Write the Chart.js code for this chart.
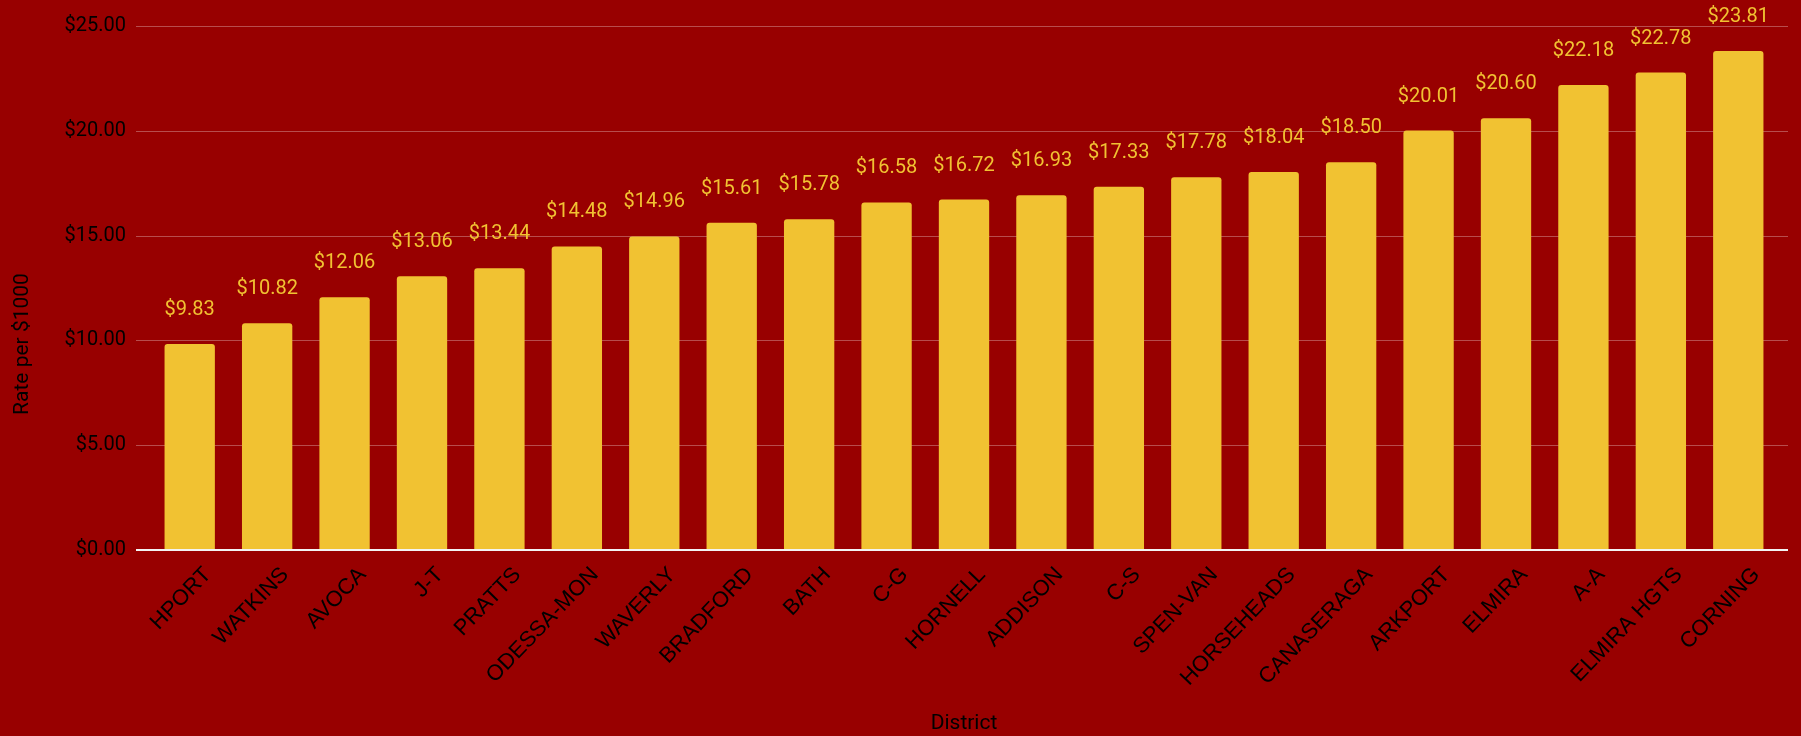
<!DOCTYPE html>
<html>
<head>
<meta charset="utf-8">
<script src="https://cdn.jsdelivr.net/npm/chart.js@4/dist/chart.umd.min.js"></script>
<style>
  html, body { margin: 0; padding: 0; background: #980000; }
  #wrap { width: 1801px; height: 736px; position: relative; }
</style>
</head>
<body>
<div id="wrap"><canvas id="c"></canvas></div>
<script>
const districts = ["HPORT","WATKINS","AVOCA","J-T","PRATTS","ODESSA-MON","WAVERLY","BRADFORD","BATH","C-G","HORNELL","ADDISON","C-S","SPEN-VAN","HORSEHEADS","CANASERAGA","ARKPORT","ELMIRA","A-A","ELMIRA HGTS","CORNING"];
const rates = [9.83,10.82,12.06,13.06,13.44,14.48,14.96,15.61,15.78,16.58,16.72,16.93,17.33,17.78,18.04,18.50,20.01,20.60,22.18,22.78,23.81];
const yTicks = [0,5,10,15,20,25];
const xTitle = "District";
const yTitle = "Rate per $1000";

const BG = '#980000';
const BAR = '#f1c232';

const gridPlugin = {
  id: 'gridExt',
  beforeDatasetsDraw(chart) {
    const {ctx, chartArea, scales} = chart;
    const y = scales.y;
    ctx.save();
    ctx.strokeStyle = 'rgba(255,255,255,0.30)';
    ctx.lineWidth = 1;
    yTicks.forEach(v => {
      if (v === 0) return;
      const py = Math.round(y.getPixelForValue(v)) + 0.5;
      ctx.beginPath();
      ctx.moveTo(chartArea.left - 15, py);
      ctx.lineTo(chartArea.right + 11, py);
      ctx.stroke();
    });
    ctx.restore();
  },
  afterDatasetsDraw(chart) {
    const {ctx, chartArea, scales} = chart;
    const y = scales.y;
    ctx.save();
    // baseline
    ctx.strokeStyle = '#f3f3f3';
    ctx.lineWidth = 2;
    const py = y.getPixelForValue(0);
    ctx.beginPath();
    ctx.moveTo(chartArea.left - 15, py);
    ctx.lineTo(chartArea.right + 11, py);
    ctx.stroke();
    // value labels
    ctx.fillStyle = BAR;
    ctx.font = '20px Roboto';
    ctx.textAlign = 'center';
    ctx.textBaseline = 'alphabetic';
    const meta = chart.getDatasetMeta(0);
    meta.data.forEach((el, i) => {
      ctx.fillText('$' + rates[i].toFixed(2), el.x, el.y - 29);
    });
    // y axis title
    ctx.save();
    ctx.translate(28, 344);
    ctx.rotate(-Math.PI / 2);
    ctx.fillStyle = '#000';
    ctx.font = '21px Roboto';
    ctx.textAlign = 'center';
    ctx.textBaseline = 'alphabetic';
    ctx.fillText(yTitle, 0, 0);
    ctx.restore();
    ctx.restore();
  }
};

new Chart(document.getElementById('c'), {
  type: 'bar',
  data: {
    labels: districts,
    datasets: [{
      data: rates,
      backgroundColor: BAR,
      borderWidth: 0,
      borderRadius: 3,
      borderSkipped: 'start',
      categoryPercentage: 1.0,
      barPercentage: 0.65
    }]
  },
  options: {
    responsive: true,
    maintainAspectRatio: false,
    animation: false,
    layout: { padding: { left: 0, right: 24, top: 26, bottom: 0 } },
    plugins: {
      legend: { display: false },
      tooltip: { enabled: false },
      title: { display: false }
    },
    scales: {
      x: {
        grid: { display: false, drawTicks: false },
        border: { display: false },
        ticks: {
          color: '#000',
          font: { family: '"Liberation Sans", Arial, sans-serif', size: 22 },
          minRotation: 46,
          maxRotation: 46,
          autoSkip: false,
          padding: 12,
          labelOffset: 18
        },
        title: {
          display: true,
          text: xTitle,
          color: '#000',
          font: { family: 'Roboto', size: 21 },
          padding: { top: 0, bottom: 0 }
        },
        afterFit(scale) { scale.height = 186; }
      },
      y: {
        min: 0,
        max: 25,
        grid: { display: false, drawTicks: false },
        border: { display: false },
        afterBuildTicks(scale) { scale.ticks = yTicks.map(v => ({ value: v })); },
        ticks: {
          color: '#000',
          font: { family: 'Roboto', size: 20 },
          padding: 25,
          callback: v => '$' + Number(v).toFixed(2)
        },
        afterFit(scale) {
          scale.width = 151;
          scale.paddingTop = 12;
          scale.paddingBottom = 12;
        }
      }
    }
  },
  plugins: [gridPlugin]
});
</script>
</body>
</html>
